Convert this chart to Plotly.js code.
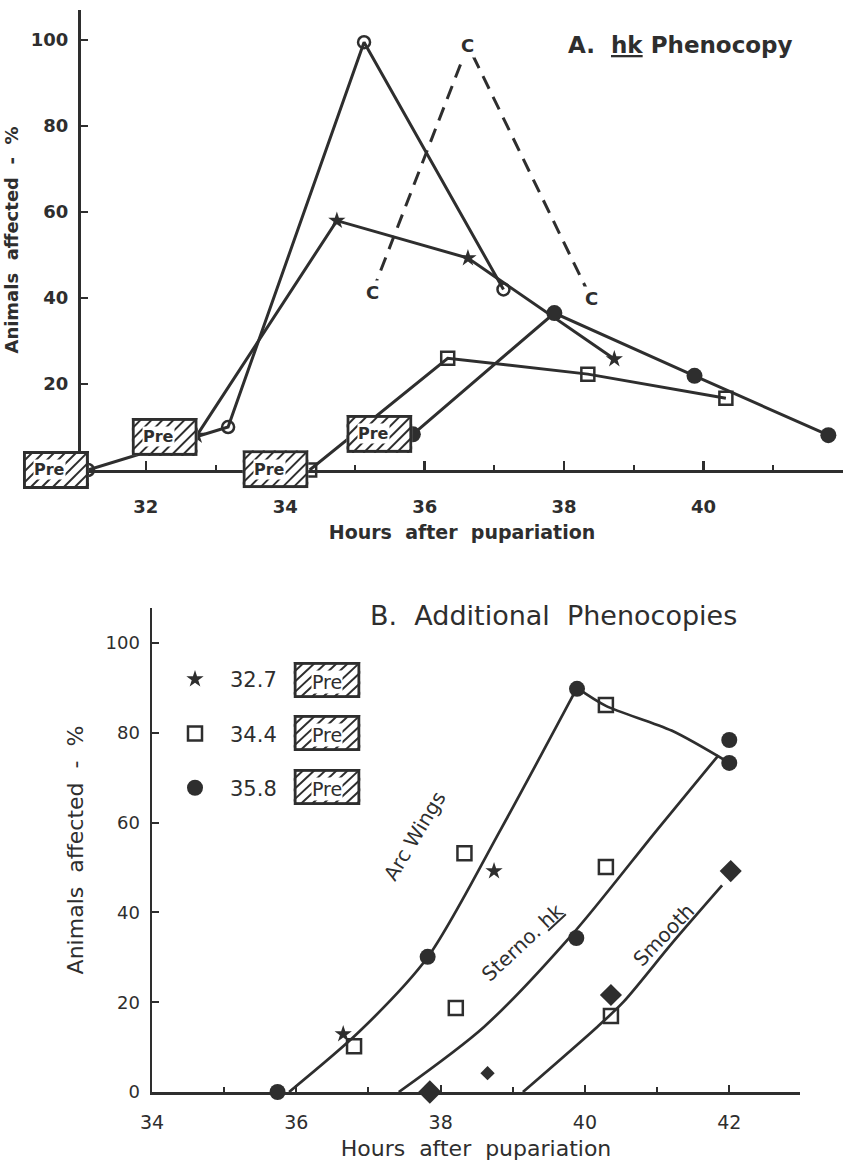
<!DOCTYPE html>
<html>
<head>
<meta charset="utf-8">
<script src="https://cdn.plot.ly/plotly-3.0.1.min.js"></script>
<style>
  html, body { margin: 0; padding: 0; background: #fff; }
  #chart { width: 854px; height: 1165px; }
</style>
</head>
<body>
<div id="chart"></div>
<script>
// ---------------- Panel A : hk Phenocopy ----------------
const topOpenX   = [31.17, 33.18, 35.13, 37.13];
const topOpenY   = [0, 10, 99.5, 42];
const topStarX   = [32.73, 34.74, 36.62, 38.72];
const topStarY   = [8, 58, 49.3, 25.8];
const topSquareX = [34.35, 36.33, 38.34, 40.32];
const topSquareY = [0, 26, 22.3, 16.7];
const topFilledX = [35.83, 37.86, 39.87, 41.79];
const topFilledY = [8.3, 36.5, 21.9, 8.1];
const controlX   = [35.25, 36.62, 38.39];
const controlY   = [41.4, 98.8, 39.8];
const controlLabel = 'C';
const preTopX    = [30.71, 32.27, 33.86, 35.35];
const preTopY    = [0, 7.7, 0.2, 8.4];
const preLabel   = 'Pre';

// ---------------- Panel B : Additional Phenocopies ----------------
const legendLabels = ['32.7', '34.4', '35.8'];
const botStarX    = [36.65, 38.74];
const botStarY    = [12.9, 49.2];
const botSquareX  = [36.8, 38.33, 38.21, 40.29, 40.36, 40.29];
const botSquareY  = [10.2, 53.2, 18.7, 50.1, 16.9, 86.2];
const botCircleX  = [35.74, 37.82, 39.89, 42.0, 39.88, 42.0];
const botCircleY  = [0, 30.1, 89.8, 73.3, 34.3, 78.4];
const botDiamondX = [37.85, 40.36, 42.02, 38.65];
const botDiamondY = [0, 21.6, 49.2, 4.2];
const arcRiseX  = [35.9, 36.87, 37.82, 38.83, 39.89];
const arcRiseY  = [0, 13.4, 30, 58.4, 90];
const arcFallX  = [39.89, 40.29, 41.2, 42.0];
const arcFallY  = [90, 86, 80.5, 73.3];
const sternoX   = [37.42, 38.6, 39.84, 41.0, 41.85];
const sternoY   = [0, 14.5, 35.4, 58.4, 75];
const smoothX   = [39.14, 40.17, 40.53, 41.21, 41.9];
const smoothY   = [0, 14.5, 20, 33.2, 46];
const curveLabels = ['Arc Wings', 'Sterno. <u>hk</u>', 'Smooth'];
const curveLabelX = [37.64, 39.14, 41.09];
const curveLabelY = [57, 33.4, 35];

const INK = '#2e2e2e';
const FONT = 'DejaVu Sans, Verdana, sans-serif';

// axis geometry (pixel layout of the two panels)
const W = 854, H = 1165;
const axA = {xdom: [81 / W, 843 / W], xr: [31.07, 42.0], ydom: [1 - 470 / H, 1 - 10 / H], yr: [0, 107]};
const axB = {xdom: [152 / W, 800 / W], xr: [34.0, 42.98], ydom: [1 - 1092 / H, 1 - 608 / H], yr: [0, 107.8]};
function paperX(ax, v) { return ax.xdom[0] + (v - ax.xr[0]) / (ax.xr[1] - ax.xr[0]) * (ax.xdom[1] - ax.xdom[0]); }
function paperY(ax, v) { return ax.ydom[0] + (v - ax.yr[0]) / (ax.yr[1] - ax.yr[0]) * (ax.ydom[1] - ax.ydom[0]); }

function hatchBox(w, h) {
  let lines = '';
  for (let i = -h; i < w + h; i += 11) {
    lines += `<line x1="${i}" y1="${h}" x2="${i + h}" y2="0"/>`;
  }
  const svg = `<svg xmlns="http://www.w3.org/2000/svg" width="${w}" height="${h}" viewBox="0 0 ${w} ${h}">` +
    `<defs><clipPath id="c"><rect x="0" y="0" width="${w}" height="${h}"/></clipPath></defs>` +
    `<rect width="${w}" height="${h}" fill="white"/>` +
    `<g clip-path="url(#c)" stroke="${INK}" stroke-width="2">${lines}</g>` +
    `<rect x="1.5" y="1.5" width="${w - 3}" height="${h - 3}" fill="none" stroke="${INK}" stroke-width="3"/></svg>`;
  return 'data:image/svg+xml;charset=utf-8,' + encodeURIComponent(svg);
}
const boxSrc = hatchBox(66, 38);

const lineA = {color: INK, width: 3};
const traces = [
  {x: topOpenX, y: topOpenY, xaxis: 'x', yaxis: 'y', mode: 'lines+markers', showlegend: false, cliponaxis: false,
   line: lineA, marker: {symbol: 'circle-open', size: 12, color: INK, line: {width: 2.5, color: INK}}},
  {x: topStarX, y: topStarY, xaxis: 'x', yaxis: 'y', mode: 'lines+markers', showlegend: false, cliponaxis: false,
   line: lineA, marker: {symbol: 'star', size: 13, color: INK}},
  {x: topSquareX, y: topSquareY, xaxis: 'x', yaxis: 'y', mode: 'lines+markers', showlegend: false, cliponaxis: false,
   line: lineA, marker: {symbol: 'square-open', size: 13, color: INK, line: {width: 2.5, color: INK}}},
  {x: topFilledX, y: topFilledY, xaxis: 'x', yaxis: 'y', mode: 'lines+markers', showlegend: false, cliponaxis: false,
   line: lineA, marker: {symbol: 'circle', size: 16, color: INK}},
  {x: controlX, y: controlY, xaxis: 'x', yaxis: 'y', mode: 'lines', showlegend: false, cliponaxis: false,
   line: {color: INK, width: 3, dash: '14px,9px'}},

  // Panel B curves
  {x: arcRiseX, y: arcRiseY, xaxis: 'x2', yaxis: 'y2', mode: 'lines', showlegend: false, cliponaxis: false,
   line: {color: INK, width: 2.7, shape: 'spline', smoothing: 0.8}},
  {x: arcFallX, y: arcFallY, xaxis: 'x2', yaxis: 'y2', mode: 'lines', showlegend: false, cliponaxis: false,
   line: {color: INK, width: 2.7, shape: 'spline', smoothing: 0.8}},
  {x: sternoX, y: sternoY, xaxis: 'x2', yaxis: 'y2', mode: 'lines', showlegend: false, cliponaxis: false,
   line: {color: INK, width: 2.7, shape: 'spline', smoothing: 0.8}},
  {x: smoothX, y: smoothY, xaxis: 'x2', yaxis: 'y2', mode: 'lines', showlegend: false, cliponaxis: false,
   line: {color: INK, width: 2.7, shape: 'spline', smoothing: 0.8}},
  // Panel B markers
  {x: botStarX, y: botStarY, xaxis: 'x2', yaxis: 'y2', mode: 'markers', name: legendLabels[0], legendgroup: 'a', cliponaxis: false,
   marker: {symbol: 'star', size: 13, color: INK, opacity: 1}},
  {x: botSquareX, y: botSquareY, xaxis: 'x2', yaxis: 'y2', mode: 'markers', name: legendLabels[1], legendgroup: 'b', cliponaxis: false,
   marker: {symbol: 'square-open', size: 14, color: INK, opacity: 1, line: {width: 2.5, color: INK}}},
  {x: botCircleX, y: botCircleY, xaxis: 'x2', yaxis: 'y2', mode: 'markers', name: legendLabels[2], legendgroup: 'c', cliponaxis: false,
   marker: {symbol: 'circle', size: 16, color: INK, opacity: 1}},
  {x: botDiamondX, y: botDiamondY, xaxis: 'x2', yaxis: 'y2', mode: 'markers', showlegend: false, cliponaxis: false,
   marker: {symbol: 'diamond', size: [18, 17, 17, 11], color: INK, opacity: 1, line: {width: 0, color: INK}}}
];

const annotations = [];
const images = [];
// "C" control labels
controlX.forEach((x, i) => annotations.push({
  x: x, y: controlY[i], xref: 'x', yref: 'y', text: '<b>' + controlLabel + '</b>', showarrow: false,
  bgcolor: 'white', borderpad: 1, font: {family: FONT, size: 18, color: INK}
}));
// Pre boxes panel A
preTopX.forEach((x, i) => {
  const px = paperX(axA, x), py = paperY(axA, preTopY[i]);
  images.push({source: boxSrc, xref: 'paper', yref: 'paper', x: px, y: py, sizex: 66 / W, sizey: 38 / H,
    xanchor: 'center', yanchor: 'middle', sizing: 'stretch', layer: 'above'});
  annotations.push({x: px - 6 / W, y: py, xref: 'paper', yref: 'paper', xanchor: 'center', yanchor: 'middle',
    text: '<b>' + preLabel + '</b>', showarrow: false,
    bgcolor: 'white', borderpad: 0, font: {family: FONT, size: 16, color: INK}});
});
// Legend Pre boxes panel B
[680, 733, 787].forEach(py => {
  images.push({source: boxSrc, xref: 'paper', yref: 'paper', x: 327 / W, y: 1 - py / H,
    sizex: 67 / W, sizey: 36 / H, xanchor: 'center', yanchor: 'middle', sizing: 'stretch', layer: 'above'});
  annotations.push({x: 327 / W, y: 1 - (py + 2) / H, xref: 'paper', yref: 'paper', xanchor: 'center', yanchor: 'middle',
    text: preLabel, showarrow: false,
    bgcolor: 'white', borderpad: 0, font: {family: FONT, size: 19, color: INK}});
});
// curve labels
const curveAngles = [-59, -43, -46];
curveLabels.forEach((t, i) => annotations.push({
  x: curveLabelX[i], y: curveLabelY[i], xref: 'x2', yref: 'y2', text: t, showarrow: false,
  textangle: curveAngles[i], font: {family: FONT, size: 20, color: INK}
}));
// Titles
annotations.push({x: 680 / W, y: 1 - 45 / H, xref: 'paper', yref: 'paper', xanchor: 'center', yanchor: 'middle', showarrow: false,
  text: '<b>A.  <u>hk</u> Phenocopy</b>', font: {family: FONT, size: 23, color: INK}});
annotations.push({x: 553 / W, y: 1 - 615 / H, xref: 'paper', yref: 'paper', xanchor: 'center', yanchor: 'middle', showarrow: false,
  text: 'B.  Additional  Phenocopies', font: {family: FONT, size: 27, color: INK}});

const axCommon = {showgrid: false, zeroline: false, showline: true, linecolor: INK, tickcolor: INK,
  automargin: false, fixedrange: true};

const layout = {
  width: W, height: H,
  margin: {l: 0, r: 0, t: 0, b: 0},
  paper_bgcolor: 'white', plot_bgcolor: 'white',
  font: {family: FONT, color: INK},
  showlegend: true,
  legend: {x: 160 / W, xanchor: 'left', y: 1 - 659 / H, yanchor: 'top', bgcolor: 'rgba(0,0,0,0)',
    font: {family: FONT, size: 21, color: INK}, traceorder: 'grouped', tracegroupgap: 24,
    itemsizing: 'trace', itemwidth: 60},
  xaxis: Object.assign({}, axCommon, {
    domain: axA.xdom, range: axA.xr, anchor: 'y',
    tickvals: [32, 34, 36, 38, 40, 42], ticks: 'inside', ticklen: 9, tickwidth: 2.5, linewidth: 3,
    minor: {tickvals: [32, 33, 34, 35, 36, 37, 38, 39, 40, 41], ticks: 'inside', ticklen: 5, tickwidth: 2, tickcolor: INK},
    ticklabelstandoff: 18, tickfont: {family: FONT, size: 18, color: INK, weight: 'bold'},
    title: {text: '<b>Hours  after  pupariation</b>', standoff: 11, font: {family: FONT, size: 19, color: INK}}
  }),
  yaxis: Object.assign({}, axCommon, {
    domain: axA.ydom, range: axA.yr, anchor: 'x',
    tickvals: [20, 40, 60, 80, 100], ticks: 'inside', ticklen: 7, tickwidth: 2.5, linewidth: 3,
    ticklabelstandoff: 6, tickfont: {family: FONT, size: 18, color: INK, weight: 'bold'},
    title: {text: '<b>Animals  affected  -  %</b>', standoff: 8, font: {family: FONT, size: 18, color: INK}}
  }),
  xaxis2: Object.assign({}, axCommon, {
    domain: axB.xdom, range: axB.xr, anchor: 'y2',
    tickvals: [34, 36, 38, 40, 42], ticks: 'inside', ticklen: 7, tickwidth: 2, linewidth: 2.5,
    minor: {tickvals: [35, 37, 39, 41], ticks: 'inside', ticklen: 5, tickwidth: 2, tickcolor: INK},
    ticklabelstandoff: 12, tickfont: {family: FONT, size: 19, color: INK},
    title: {text: 'Hours  after  pupariation', standoff: 9, font: {family: FONT, size: 22, color: INK}}
  }),
  yaxis2: Object.assign({}, axCommon, {
    domain: axB.ydom, range: axB.yr, anchor: 'x2',
    tickvals: [0, 20, 40, 60, 80, 100], ticks: 'inside', ticklen: 7, tickwidth: 2, linewidth: 2.5,
    ticklabelstandoff: 6, tickfont: {family: FONT, size: 18, color: INK},
    title: {text: 'Animals  affected  -  %', standoff: 16, font: {family: FONT, size: 22, color: INK}}
  }),
  annotations: annotations,
  images: images
};

Plotly.newPlot('chart', traces, layout, {displayModeBar: false, staticPlot: true});
</script>
</body>
</html>
